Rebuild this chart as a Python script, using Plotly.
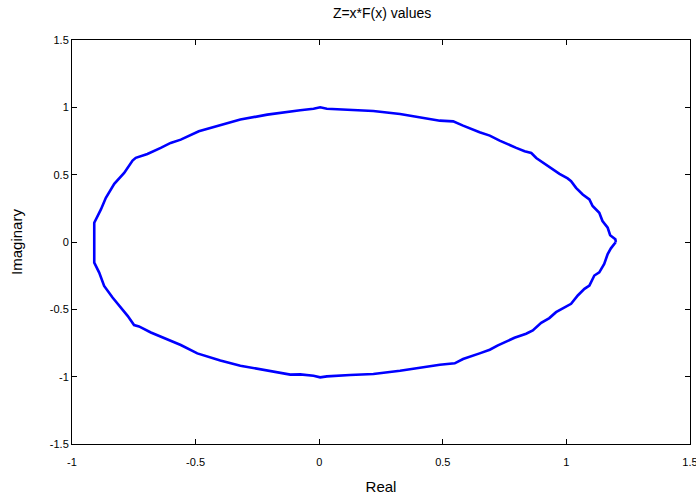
import plotly.graph_objects as go

# Closed curve Z = x*F(x): real and imaginary parts
real_part = [
    1.200, 1.198, 1.177, 1.167, 1.146, 1.133, 1.106, 1.093, 1.066, 1.039, 1.019, 1.005,
    0.972, 0.938, 0.911, 0.878, 0.858, 0.831, 0.797, 0.763, 0.730, 0.690, 0.649,
    0.582, 0.542, 0.488, 0.394, 0.327, 0.219, 0.125, 0.031, 0.004, -0.023, -0.077,
    -0.130, -0.210, -0.319, -0.400, -0.487, -0.560, -0.601, -0.641, -0.695, -0.742,
    -0.755, -0.789, -0.829, -0.863, -0.883, -0.910, -0.910, -0.913,
    -0.912, -0.910, -0.890, -0.870, -0.836, -0.802, -0.775, -0.749, -0.729, -0.681,
    -0.634, -0.560, -0.493, -0.400, -0.319, -0.210, -0.117, -0.077, -0.023, 0.004,
    0.031, 0.125, 0.219, 0.327, 0.394, 0.488, 0.548, 0.582, 0.649, 0.690, 0.723,
    0.757, 0.790, 0.837, 0.864, 0.898, 0.931, 0.958, 0.992, 1.019, 1.046, 1.073,
    1.093, 1.113, 1.133, 1.153, 1.167, 1.180, 1.200,
]
imag_part = [
    0.000, 0.020, 0.050, 0.106, 0.156, 0.217, 0.267, 0.316, 0.353, 0.402, 0.452, 0.472,
    0.506, 0.550, 0.587, 0.624, 0.661, 0.674, 0.699, 0.724, 0.753, 0.790, 0.815,
    0.864, 0.896, 0.901, 0.928, 0.950, 0.973, 0.983, 0.990, 1.000, 0.990, 0.978,
    0.966, 0.946, 0.909, 0.867, 0.822, 0.760, 0.736, 0.699, 0.654, 0.625,
    0.605, 0.513, 0.432, 0.328, 0.242, 0.143, 0.081, 0.000,
    -0.080, -0.153, -0.227, -0.326, -0.412, -0.487, -0.548, -0.617, -0.627, -0.672,
    -0.709, -0.765, -0.827, -0.880, -0.919, -0.956, -0.985, -0.983, -0.993, -1.005,
    -0.998, -0.988, -0.980, -0.956, -0.936, -0.911, -0.901, -0.869, -0.827, -0.800, -0.768,
    -0.738, -0.711, -0.681, -0.657, -0.600, -0.565, -0.521, -0.484, -0.459, -0.397, -0.348,
    -0.323, -0.249, -0.225, -0.163, -0.089, -0.047, 0.000,
]

x_tick_vals = [-1, -0.5, 0, 0.5, 1, 1.5]
x_tick_text = ["-1", "-0.5", "0", "0.5", "1", "1.5"]
y_tick_vals = [-1.5, -1, -0.5, 0, 0.5, 1, 1.5]
y_tick_text = ["-1.5", "-1", "-0.5", "0", "0.5", "1", "1.5"]

FONT = "Liberation Sans, Arial, sans-serif"

fig = go.Figure()
fig.add_trace(go.Scatter(
    x=real_part, y=imag_part, mode="lines",
    line=dict(color="#0000ff", width=2.6),
    showlegend=False, hoverinfo="skip",
))

axis_common = dict(
    showgrid=False, zeroline=False, showline=True, linecolor="black", linewidth=1,
    mirror="ticks", ticks="inside", ticklen=5, tickcolor="black", tickwidth=1,
    tickfont=dict(family=FONT, size=11, color="black"),
    automargin=False, ticklabeloverflow="allow",
)

fig.update_layout(
    width=696, height=499,
    margin=dict(l=72, r=6, t=40, b=55, autoexpand=False),
    paper_bgcolor="white", plot_bgcolor="white",
    title=dict(text="Z=x*F(x) values", x=0.549, xref="container", xanchor="center",
               y=1 - 13 / 499, yref="container", yanchor="middle", automargin=False,
               font=dict(family=FONT, size=14, color="black")),
    xaxis=dict(range=[-1, 1.5], tickvals=x_tick_vals, ticktext=x_tick_text,
               ticklabelstandoff=8,
               title=dict(text="Real", standoff=14,
                          font=dict(family=FONT, size=15, color="black")),
               **axis_common),
    yaxis=dict(range=[-1.5, 1.5], tickvals=y_tick_vals, ticktext=y_tick_text,
               ticklabelstandoff=0,
               title=dict(text="Imaginary", standoff=23,
                          font=dict(family=FONT, size=15, color="black")),
               **axis_common),
)

fig.write_html(
    "out.html",
    config={"displayModeBar": False},
    post_script="document.body.style.margin='0';document.body.style.overflow='hidden';",
)
